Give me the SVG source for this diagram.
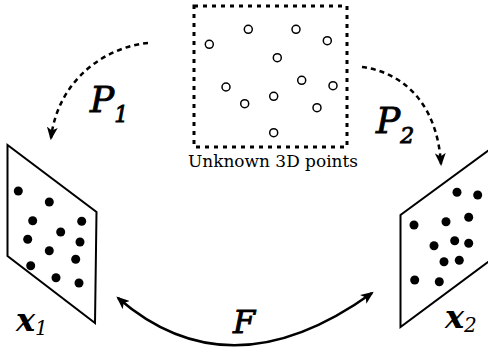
<svg xmlns="http://www.w3.org/2000/svg" width="488" height="357" viewBox="0 0 488 357">
<defs>
<marker id="ah" viewBox="0 0 12 10" refX="10" refY="5" markerWidth="13" markerHeight="11" markerUnits="userSpaceOnUse" orient="auto">
<path d="M0,0 L12,5 L0,10 L3,5 Z" fill="#000"/>
</marker>
<marker id="ahs" viewBox="0 0 12 10" refX="10" refY="5" markerWidth="13" markerHeight="11" markerUnits="userSpaceOnUse" orient="auto-start-reverse">
<path d="M0,0 L12,5 L0,10 L3,5 Z" fill="#000"/>
</marker>
</defs>
<style>
.plane{fill:#fff;stroke:#000;stroke-width:2}
.dot{fill:#000}
.pt{fill:none;stroke:#000;stroke-width:1.5}
.dash{fill:none;stroke:#000;stroke-width:2.5;stroke-dasharray:5,4}
.lbl{font-family:"DejaVu Serif","Liberation Serif",serif;font-style:italic;fill:#000}
.heavy{stroke:#000;stroke-width:0.9}
.cap{font-family:"DejaVu Serif","Liberation Serif",serif;font-size:17px;fill:#000}
</style>
<rect width="488" height="357" fill="#fff"/>
<g id="points3d">
<rect x="194" y="6" width="153" height="141" fill="none" stroke="#000" stroke-width="3" stroke-dasharray="4,5"/>
<circle class="pt" cx="248.3" cy="29.3" r="4"/>
<circle class="pt" cx="296" cy="29.3" r="4"/>
<circle class="pt" cx="327.3" cy="40.7" r="4"/>
<circle class="pt" cx="209.3" cy="44.3" r="4"/>
<circle class="pt" cx="277.3" cy="57.7" r="4"/>
<circle class="pt" cx="226" cy="87" r="4"/>
<circle class="pt" cx="301.7" cy="80.3" r="4"/>
<circle class="pt" cx="333" cy="85.7" r="4"/>
<circle class="pt" cx="244.7" cy="103.7" r="4"/>
<circle class="pt" cx="273.7" cy="96.3" r="4"/>
<circle class="pt" cx="317" cy="107.7" r="4"/>
<circle class="pt" cx="273.7" cy="132.7" r="4"/>
<text class="cap" x="188" y="167" textLength="170" lengthAdjust="spacingAndGlyphs">Unknown 3D points</text>
</g>
<g id="image1">
<polygon class="plane" points="7.5,145 7.5,256 95,323 96.5,212"/>
<circle class="dot" cx="18.3" cy="191" r="4.5"/>
<circle class="dot" cx="49.3" cy="202" r="4.5"/>
<circle class="dot" cx="32.7" cy="220.7" r="4.5"/>
<circle class="dot" cx="81.7" cy="221.3" r="4.5"/>
<circle class="dot" cx="60.7" cy="232" r="4.5"/>
<circle class="dot" cx="27.7" cy="239.3" r="4.5"/>
<circle class="dot" cx="80" cy="242" r="4.5"/>
<circle class="dot" cx="49.3" cy="250.7" r="4.5"/>
<circle class="dot" cx="75.7" cy="259.3" r="4.5"/>
<circle class="dot" cx="30.7" cy="265.7" r="4.5"/>
<circle class="dot" cx="56" cy="277.7" r="4.5"/>
<circle class="dot" cx="79" cy="283" r="4.5"/>
<text class="lbl" x="16" y="331" font-size="32" font-weight="bold">x<tspan font-size="20" font-weight="normal" dy="4">1</tspan></text>
</g>
<g id="image2">
<polygon class="plane" points="400.5,215 400.5,327 500,253 500,142"/>
<circle class="dot" cx="457" cy="192.3" r="4.5"/>
<circle class="dot" cx="477.7" cy="195" r="4.5"/>
<circle class="dot" cx="414" cy="225" r="4.5"/>
<circle class="dot" cx="446" cy="221.7" r="4.5"/>
<circle class="dot" cx="468.7" cy="217.3" r="4.5"/>
<circle class="dot" cx="434" cy="245.7" r="4.5"/>
<circle class="dot" cx="454.7" cy="240.7" r="4.5"/>
<circle class="dot" cx="468.7" cy="243.3" r="4.5"/>
<circle class="dot" cx="444" cy="261.7" r="4.5"/>
<circle class="dot" cx="459.3" cy="260.3" r="4.5"/>
<circle class="dot" cx="414.7" cy="280" r="4.5"/>
<circle class="dot" cx="439.3" cy="281.7" r="4.5"/>
<text class="lbl" x="445" y="328" font-size="32" font-weight="bold">x<tspan font-size="20" font-weight="normal" dy="4">2</tspan></text>
</g>
<g id="connectors">
<path class="dash" d="M148,43 C105,47 58,80 51,138" marker-end="url(#ah)"/>
<path class="dash" d="M362,67 C400,72 437,100 441,164" marker-end="url(#ah)"/>
<path d="M118,298 Q230,395 372,293" fill="none" stroke="#000" stroke-width="2.5" marker-start="url(#ahs)" marker-end="url(#ah)"/>
</g>
<g id="labels">
<text class="lbl heavy" x="90" y="112" font-size="36">P<tspan font-size="22" dy="10">1</tspan></text>
<text class="lbl heavy" x="376" y="133" font-size="36">P<tspan font-size="22" dy="10">2</tspan></text>
<text class="lbl heavy" x="233" y="333" font-size="32">F</text>
</g>
</svg>
